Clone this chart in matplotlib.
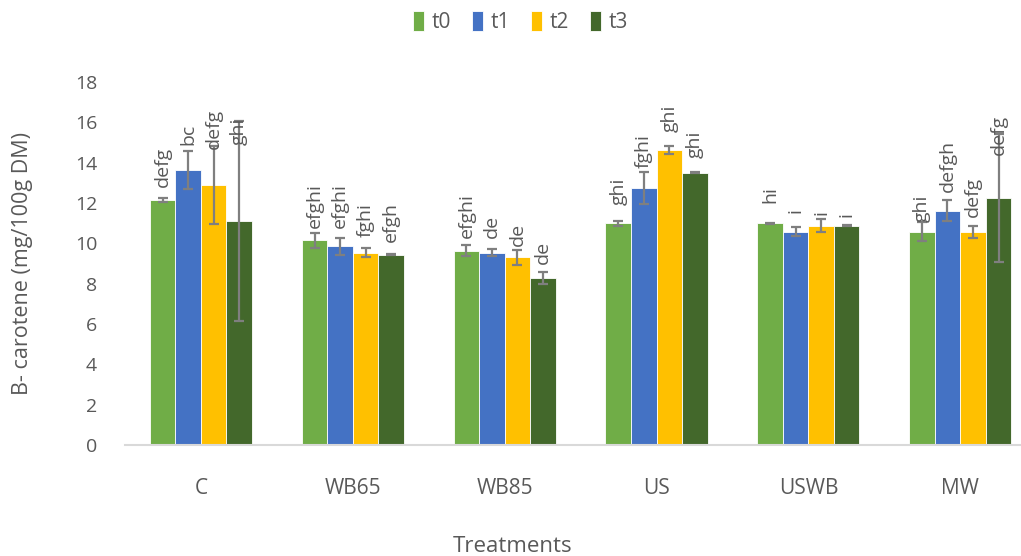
import matplotlib
matplotlib.use("Agg")
import matplotlib.pyplot as plt
import numpy as np

# Treatments on the x axis and storage times as series
treatments = ["C", "WB65", "WB85", "US", "USWB", "MW"]
series = ["t0", "t1", "t2", "t3"]

# Mean beta-carotene (mg/100 g DM) per treatment, one list per time point
t0 = [12.15, 10.15, 9.63, 10.99, 10.99, 10.58]
t1 = [13.62, 9.85, 9.53, 12.76, 10.58, 11.62]
t2 = [12.88, 9.53, 9.32, 14.63, 10.87, 10.58]
t3 = [11.09, 9.43, 8.28, 13.50, 10.87, 12.23]

# Standard deviations
t0_err = [0.10, 0.36, 0.27, 0.12, 0.02, 0.46]
t1_err = [0.94, 0.42, 0.17, 0.80, 0.22, 0.52]
t2_err = [1.93, 0.23, 0.37, 0.18, 0.33, 0.30]
t3_err = [4.96, 0.03, 0.32, 0.03, 0.03, 3.18]

# Significance letters
t0_sig = ["defg", "efghi", "efghi", "ghi", "hi", "ghi"]
t1_sig = ["bc", "efghi", "de", "fghi", "i", "defgh"]
t2_sig = ["defg", "fghi", "de", "ghi", "i", "defg"]
t3_sig = ["ghi", "efgh", "de", "ghi", "i", "defg"]

# Height (data units) where each letter group starts
t0_lab = [12.80, 10.74, 10.25, 11.90, 11.98, 11.07]
t1_lab = [14.87, 10.74, 10.25, 13.72, 11.49, 12.56]
t2_lab = [14.66, 10.33, 9.87, 15.53, 11.40, 11.32]
t3_lab = [14.87, 10.08, 9.00, 14.21, 11.32, 14.38]

values = [t0, t1, t2, t3]
errors = [t0_err, t1_err, t2_err, t3_err]
letters = [t0_sig, t1_sig, t2_sig, t3_sig]
label_y = [t0_lab, t1_lab, t2_lab, t3_lab]
colors = ["#70AD47", "#4472C4", "#FFC000", "#43682B"]
text_color = "#595959"

plt.rcParams["font.family"] = ["Open Sans", "DejaVu Sans"]

fig = plt.figure(figsize=(10.21, 5.56), dpi=100)
ax = fig.add_axes([125 / 1021, 1 - 445 / 556, (1021 - 125) / 1021, (445 - 82) / 556])

x = np.arange(len(treatments))
w = 0.168
for j, name in enumerate(series):
    xs = x + (j - 1.5) * w
    ax.bar(xs, values[j], width=w, color=colors[j], edgecolor="#FFFFFF",
           linewidth=0.6, label=name, zorder=2)
    ax.errorbar(xs, values[j], yerr=errors[j], fmt="none", ecolor="#7F7F7F",
                elinewidth=1.6, capsize=3.6, capthick=1.6, zorder=3)
    for xi, yl, s in zip(xs, label_y[j], letters[j]):
        ax.text(xi, yl, s, rotation=90, ha="center", va="bottom",
                fontsize=14, color=text_color, clip_on=False, zorder=4)

ax.set_xlim(-0.5, 5.40)
ax.set_ylim(0, 18)
ax.set_yticks(np.arange(0, 19, 2))
ax.set_xticks(x)
ax.set_xticklabels(treatments)
ax.tick_params(axis="x", length=0, pad=24, labelsize=15, labelcolor=text_color)
ax.tick_params(axis="y", length=0, pad=20, labelsize=14, labelcolor=text_color)
for side in ["top", "right", "left"]:
    ax.spines[side].set_visible(False)
ax.spines["bottom"].set_color("#D9D9D9")
ax.spines["bottom"].set_linewidth(1.5)

ax.set_ylabel("B- carotene (mg/100g DM)", fontsize=15.5, color=text_color, labelpad=30)
fig.text(513 / 1021, 1 - 546 / 556, "Treatments", ha="center", va="center",
         fontsize=16, color=text_color)

fig.legend(loc="center", bbox_to_anchor=(0.51, 1 - 22 / 556), ncol=4, frameon=False,
           fontsize=15, labelcolor=text_color, handlelength=0.5, handleheight=1.1,
           handletextpad=0.4, columnspacing=1.0)

fig.savefig("out.png", dpi=100)
